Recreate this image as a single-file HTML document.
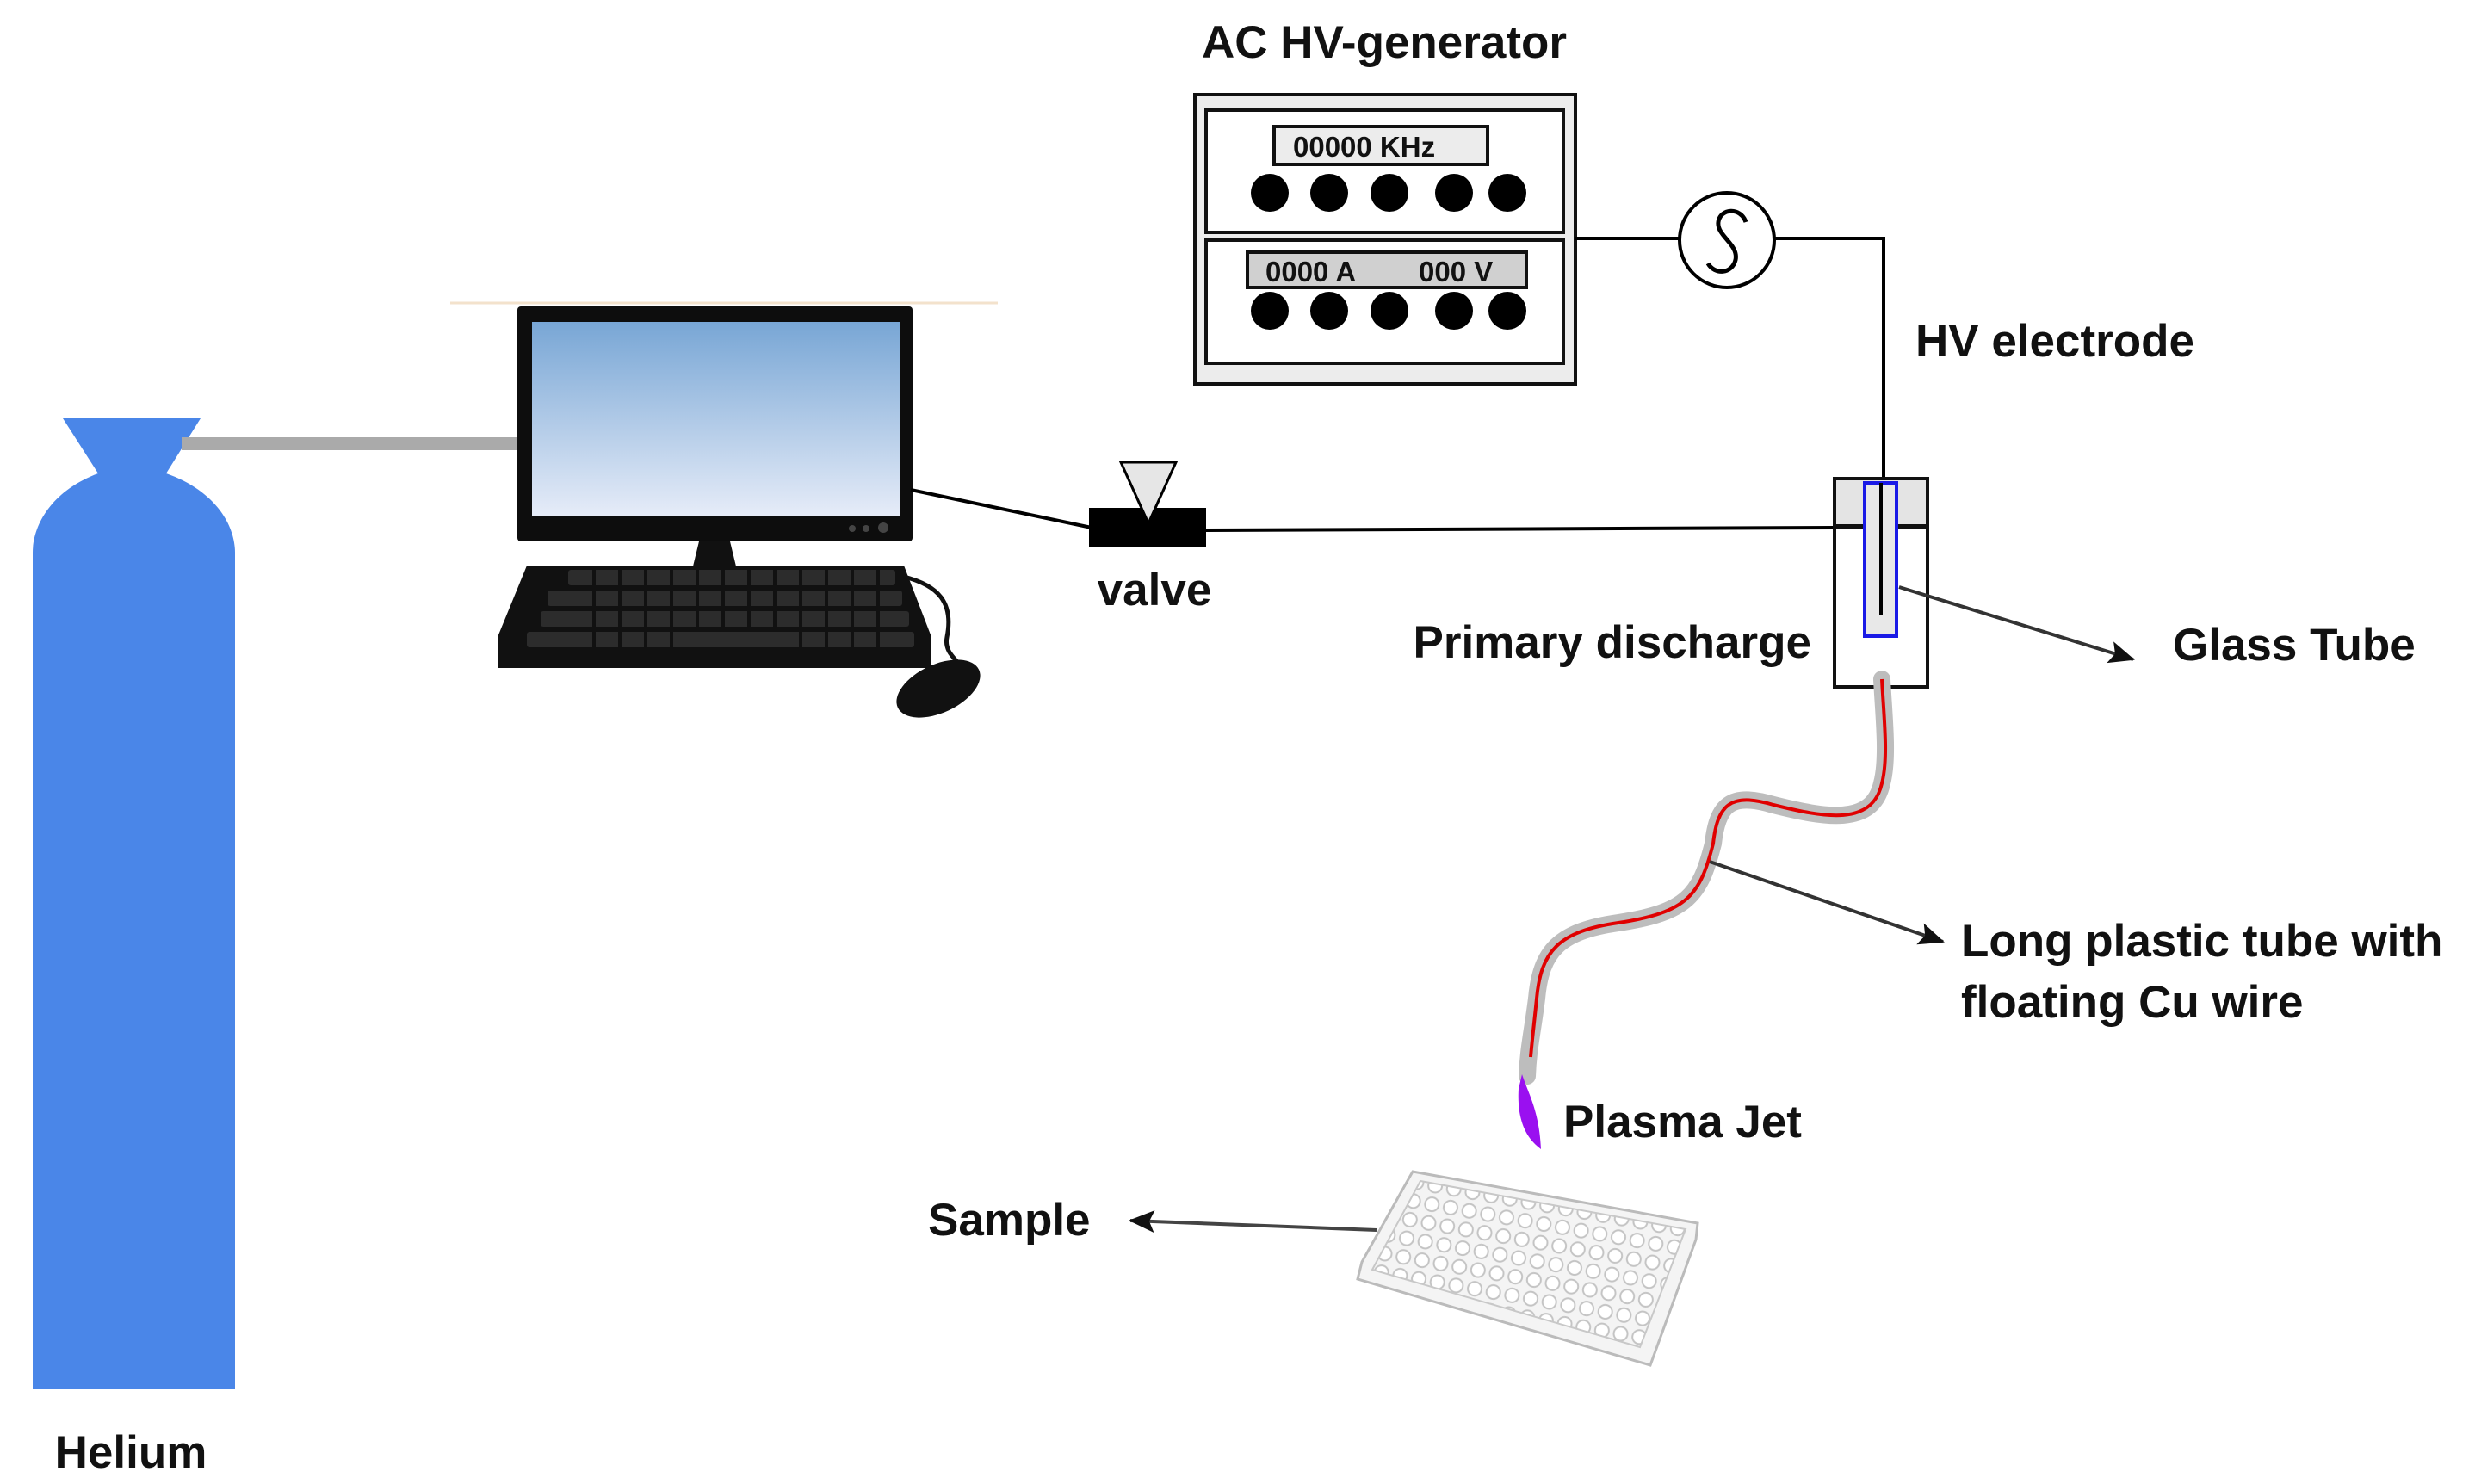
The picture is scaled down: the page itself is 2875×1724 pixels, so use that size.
<!DOCTYPE html>
<html><head><meta charset="utf-8"><style>
html,body{margin:0;padding:0;background:#fff;}
svg{display:block;}
text{font-family:"Liberation Sans",sans-serif;}
.l{font-weight:bold;font-size:53px;fill:#111;}
</style></head><body>
<svg width="2875" height="1724" viewBox="0 0 2875 1724" xmlns="http://www.w3.org/2000/svg">
<defs>
<linearGradient id="scr" x1="0" y1="0" x2="0" y2="1"><stop offset="0" stop-color="#78a6d5"/><stop offset="1" stop-color="#e6ecf8"/></linearGradient>
<marker id="ah2" markerWidth="30" markerHeight="26" refX="28" refY="13" orient="auto" markerUnits="userSpaceOnUse"><path d="M0,0 L30,13 L0,26 L6,13 z" fill="#111"/></marker>
<pattern id="wells" width="22" height="22" patternUnits="userSpaceOnUse" patternTransform="rotate(10)"><rect width="22" height="22" fill="#f4f4f4"/><circle cx="11" cy="11" r="8" fill="#fff" stroke="#c4c4c4" stroke-width="2"/></pattern>
</defs>

<!-- Helium cylinder -->
<path d="M73,486 L233,486 L193,550 C250,570 273,610 273,642 L273,1614 L38,1614 L38,642 C38,610 60,570 114,550 Z" fill="#4a86e8"/>
<rect x="211" y="508" width="396" height="15" fill="#aaaaaa"/>
<text class="l" x="152" y="1705" text-anchor="middle">Helium</text>

<!-- computer -->
<line x1="523" y1="352" x2="1159" y2="352" stroke="#f3e2cc" stroke-width="3"/>
<rect x="601" y="356" width="459" height="273" rx="4" fill="#0d0d0d"/>
<rect x="618" y="374" width="427" height="226" fill="url(#scr)"/>
<circle cx="990" cy="614" r="4" fill="#444"/><circle cx="1006" cy="614" r="4" fill="#444"/><circle cx="1026" cy="613" r="6" fill="#444"/>
<path d="M812,629 L848,629 L856,662 L804,662 Z" fill="#111"/>
<path d="M612,657 L1050,657 L1082,740 L1082,776 L578,776 L578,740 Z" fill="#111"/>
<g fill="#2c2c2c">
<rect x="660" y="662" width="380" height="18" rx="3"/>
<rect x="636" y="686" width="412" height="18" rx="3"/>
<rect x="628" y="710" width="428" height="18" rx="3"/>
<rect x="612" y="734" width="450" height="18" rx="3"/>
</g>
<g stroke="#111" stroke-width="4">
<line x1="690" y1="660" x2="690" y2="756"/><line x1="720" y1="660" x2="720" y2="756"/><line x1="750" y1="660" x2="750" y2="756"/><line x1="780" y1="660" x2="780" y2="756"/><line x1="810" y1="660" x2="810" y2="730"/><line x1="840" y1="660" x2="840" y2="730"/><line x1="870" y1="660" x2="870" y2="730"/><line x1="900" y1="660" x2="900" y2="730"/><line x1="930" y1="660" x2="930" y2="756"/><line x1="960" y1="660" x2="960" y2="756"/><line x1="990" y1="660" x2="990" y2="756"/><line x1="1020" y1="660" x2="1020" y2="756"/>
</g>
<path d="M1050,670 C1090,680 1108,700 1100,740 C1095,765 1125,770 1130,800" fill="none" stroke="#111" stroke-width="5"/>
<ellipse cx="1090" cy="800" rx="52" ry="28" transform="rotate(-25 1090 800)" fill="#111"/>

<!-- valve -->
<line x1="1058" y1="569" x2="1268" y2="613" stroke="#000" stroke-width="4"/>
<rect x="1265" y="590" width="136" height="46" fill="#000"/>
<path d="M1302,537 L1366,537 L1334,608 Z" fill="#e6e6e6" stroke="#000" stroke-width="3"/>
<line x1="1401" y1="616" x2="2131" y2="613" stroke="#000" stroke-width="4"/>
<text class="l" x="1341" y="703" text-anchor="middle">valve</text>

<!-- generator -->
<text class="l" x="1608" y="67" text-anchor="middle">AC HV-generator</text>
<rect x="1388" y="110" width="442" height="336" fill="#ececec" stroke="#111" stroke-width="4"/>
<rect x="1401" y="128" width="415" height="142" fill="#fff" stroke="#111" stroke-width="4"/>
<rect x="1401" y="279" width="415" height="143" fill="#fff" stroke="#111" stroke-width="4"/>
<rect x="1480" y="147" width="248" height="44" fill="#ececec" stroke="#111" stroke-width="4"/>
<text x="1502" y="182" font-size="33" font-weight="bold" fill="#111">00000 KHz</text>
<rect x="1449" y="293" width="324" height="41" fill="#d0d0d0" stroke="#111" stroke-width="4"/>
<text x="1470" y="327" font-size="33" font-weight="bold" fill="#111">0000 A</text>
<text x="1648" y="327" font-size="33" font-weight="bold" fill="#111">000 V</text>
<g fill="#000">
<circle cx="1475" cy="224" r="22"/><circle cx="1544" cy="224" r="22"/><circle cx="1614" cy="224" r="22"/><circle cx="1689" cy="224" r="22"/><circle cx="1751" cy="224" r="22"/>
<circle cx="1475" cy="361" r="22"/><circle cx="1544" cy="361" r="22"/><circle cx="1614" cy="361" r="22"/><circle cx="1689" cy="361" r="22"/><circle cx="1751" cy="361" r="22"/>
</g>
<line x1="1830" y1="277" x2="1951" y2="277" stroke="#000" stroke-width="4"/>
<circle cx="2006" cy="279" r="55" fill="#fff" stroke="#000" stroke-width="4"/>
<path d="M2028,258 C2022,240 1998,242 1996,258 C1994,274 2020,284 2016,302 C2012,318 1992,320 1984,306" fill="none" stroke="#000" stroke-width="5"/>
<polyline points="2061,277 2188,277 2188,715" fill="none" stroke="#000" stroke-width="4"/>
<text class="l" x="2225" y="414">HV electrode</text>

<!-- glass tube -->
<rect x="2131" y="556" width="108" height="242" fill="#fff" stroke="#111" stroke-width="4"/>
<rect x="2133" y="558" width="104" height="53" fill="#e4e4e4"/>
<line x1="2131" y1="612" x2="2239" y2="612" stroke="#111" stroke-width="6"/>
<rect x="2166" y="561" width="37" height="178" fill="#e8e8e8" stroke="#1a1ae6" stroke-width="4"/>
<line x1="2185" y1="561" x2="2185" y2="715" stroke="#000" stroke-width="4"/>
<text class="l" x="2104" y="764" text-anchor="end">Primary discharge</text>
<line x1="2206" y1="682" x2="2478" y2="766" stroke="#333" stroke-width="4" marker-end="url(#ah2)"/>
<text class="l" x="2524" y="767">Glass Tube</text>

<!-- plastic tube -->
<path d="M2186,789 C2188,830 2194,880 2186,910 C2175,960 2120,950 2060,935 C2010,920 1995,935 1990,980 C1975,1040 1960,1060 1880,1072 C1810,1082 1790,1105 1785,1160 C1780,1200 1775,1220 1774,1250" fill="none" stroke="#bdbdbd" stroke-width="20" stroke-linecap="round"/>
<path d="M2186,789 C2188,830 2194,880 2186,910 C2175,960 2120,950 2060,935 C2010,920 1995,935 1990,980 C1975,1040 1960,1060 1880,1072 C1810,1082 1790,1105 1785,1160 C1782,1190 1780,1205 1778,1228" fill="none" stroke="#e00000" stroke-width="4"/>
<path d="M1768,1248 C1775,1270 1788,1290 1790,1335 C1772,1322 1762,1300 1764,1265 Z" fill="#9a10f0"/>
<line x1="1986" y1="1001" x2="2257" y2="1094" stroke="#333" stroke-width="4" marker-end="url(#ah2)"/>
<text class="l" x="2278" y="1111">Long plastic tube with</text>
<text class="l" x="2278" y="1182">floating Cu wire</text>
<text class="l" x="1816" y="1321">Plasma Jet</text>

<!-- plate -->
<path d="M1641,1361 L1972,1421 L1970,1440 L1917,1586 L1577,1486 L1582,1466 Z" fill="#f4f4f4" stroke="#bbb" stroke-width="3"/>
<path d="M1650,1372 L1958,1428 L1905,1565 L1594,1475 Z" fill="url(#wells)" stroke="#c8c8c8" stroke-width="2"/>
<line x1="1599" y1="1429" x2="1313" y2="1418" stroke="#444" stroke-width="4" marker-end="url(#ah2)"/>
<text class="l" x="1078" y="1435">Sample</text>
</svg>
</body></html>
